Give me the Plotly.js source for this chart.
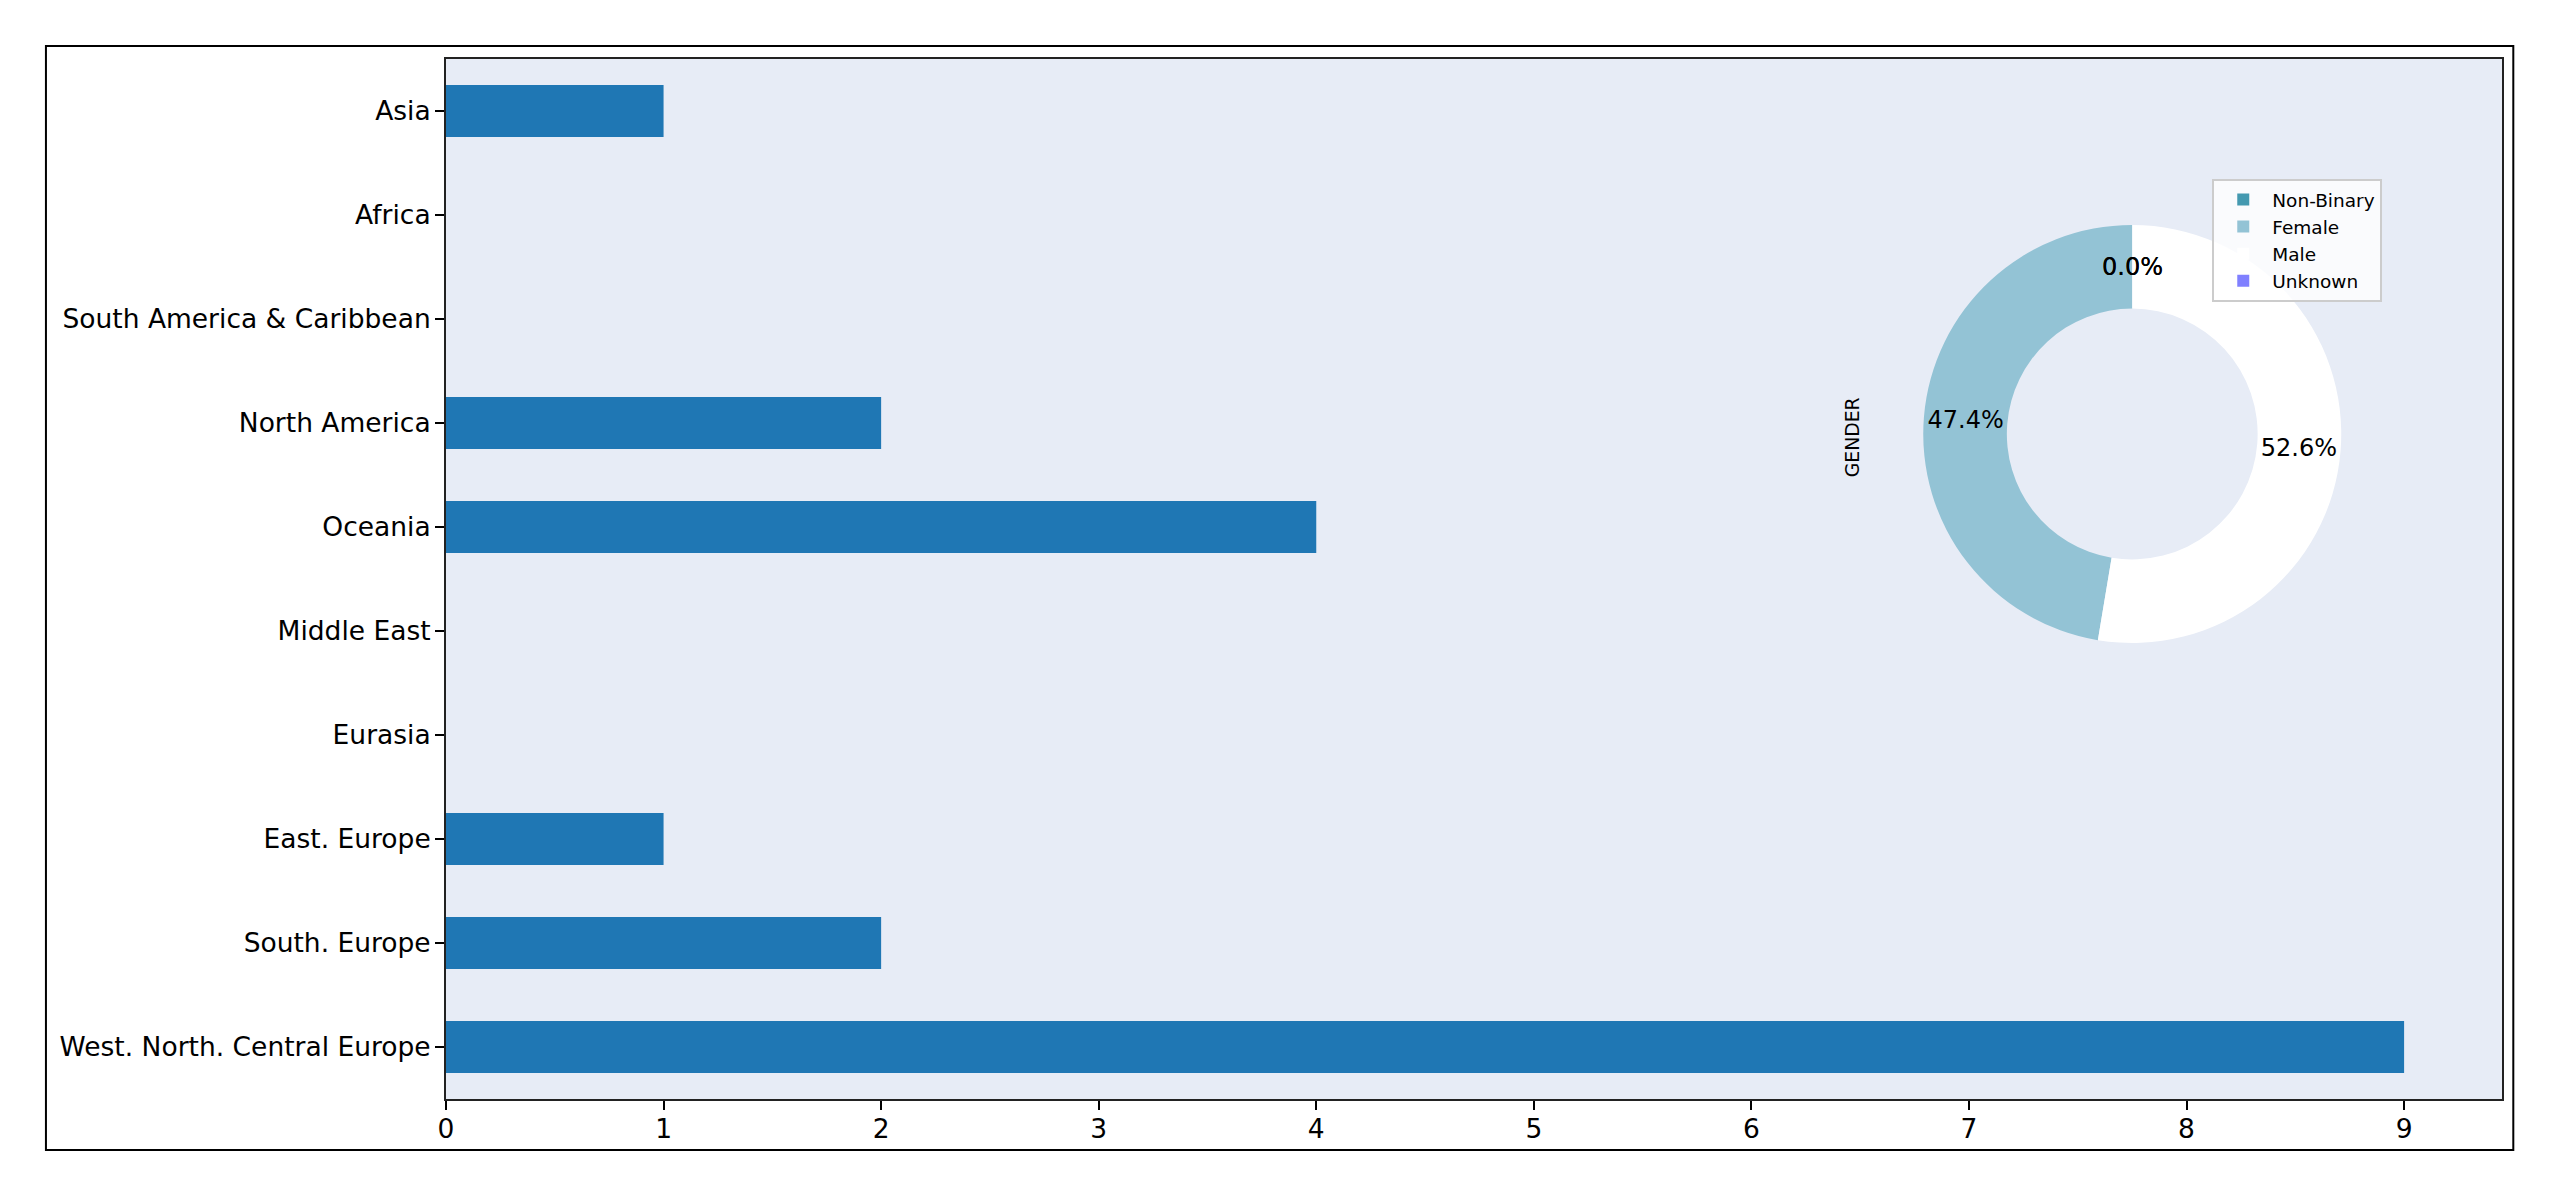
<!DOCTYPE html>
<html>
<head>
<meta charset="utf-8">
<script src="https://cdn.plot.ly/plotly-3.0.1.min.js"></script>
<style>html,body{margin:0;padding:0;background:#fff;}#chart{width:2560px;height:1197px;}</style>
</head>
<body>
<div id="chart"></div>
<script>
// Region bar chart (bottom to top, as drawn)
const regions = [
  "West. North. Central Europe",
  "South. Europe",
  "East. Europe",
  "Eurasia",
  "Middle East",
  "Oceania",
  "North America",
  "South America & Caribbean",
  "Africa",
  "Asia"
];
const regionCounts = [9, 2, 1, 0, 0, 4, 2, 0, 0, 1];
const xTicks = [0, 1, 2, 3, 4, 5, 6, 7, 8, 9];

// Gender donut
const genderLabels = ["Non-Binary", "Female", "Male", "Unknown"];
const genderCounts = [0, 9, 10, 0];
const genderColors = ["#4499B0", "#93C3D5", "#FFFFFF", "#8080FF"];

const FONT = "DejaVu Sans";
const W = 2560, H = 1197;
const L = 446, R = 58.3, T = 59, B = 98;
const pw = W - L - R, ph = H - T - B;
const toPx = (px) => (px - L) / pw;
const toPy = (py) => (H - B - py) / ph;

// donut placement
const cx = 2132, cy = 434, rad = 209, hole = 0.6;

const bar = {
  type: "bar",
  orientation: "h",
  y: regions,
  x: regionCounts,
  width: 0.5,
  marker: {color: "#1F77B4", line: {width: 0}},
  showlegend: false,
  hoverinfo: "x+y"
};

const pie = {
  type: "pie",
  labels: genderLabels,
  values: genderCounts,
  sort: false,
  direction: "counterclockwise",
  rotation: 0,
  hole: hole,
  marker: {colors: genderColors, line: {width: 0}},
  textinfo: "percent",
  texttemplate: "%{percent:.1%}",
  textposition: "inside",
  insidetextorientation: "horizontal",
  textfont: {family: FONT, size: 24, color: "#000"},
  domain: {x: [toPx(cx - rad), toPx(cx + rad)], y: [toPy(cy + rad), toPy(cy - rad)]},
  showlegend: true
};

// labels for zero-valued slices (Plotly does not draw them), placed at the slice mid-angle
const total = genderCounts.reduce((a, b) => a + b, 0);
const zeroLabels = [];
let cum = 0;
genderCounts.forEach((v) => {
  const mid = (cum + v / 2) / total;
  cum += v;
  if (v === 0) {
    const ang = (90 + 360 * mid) * Math.PI / 180;
    const rr = rad * (1 + hole) / 2;
    zeroLabels.push({
      text: (100 * v / total).toFixed(1) + "%",
      xref: "paper", yref: "paper",
      x: toPx(cx + rr * Math.cos(ang)), y: toPy(cy - rr * Math.sin(ang)),
      xanchor: "center", yanchor: "middle", showarrow: false,
      font: {family: FONT, size: 24, color: "#000"}
    });
  }
});

const layout = {
  width: W, height: H,
  margin: {l: L, r: R, t: T, b: B, pad: 0},
  paper_bgcolor: "#FFFFFF",
  plot_bgcolor: "#E7ECF6",
  font: {family: FONT, size: 26.5, color: "#000"},
  xaxis: {
    range: [0, 9.45],
    tickvals: xTicks,
    ticktext: xTicks.map(String),
    ticks: "outside", ticklen: 9, tickwidth: 2, tickcolor: "#000",
    showgrid: false, zeroline: false,
    showline: true, mirror: true, linecolor: "#222", linewidth: 2,
    tickfont: {family: FONT, size: 26.5, color: "#000"},
    ticklabelstandoff: -4
  },
  yaxis: {
    type: "category",
    categoryorder: "array",
    categoryarray: regions,
    range: [-0.5, 9.5],
    ticks: "outside", ticklen: 9, tickwidth: 2, tickcolor: "#000",
    showgrid: false, zeroline: false,
    showline: true, mirror: true, linecolor: "#222", linewidth: 2,
    tickfont: {family: FONT, size: 26.5, color: "#000"},
    ticklabelstandoff: -1
  },
  legend: {
    x: toPx(2212), y: toPy(179), xanchor: "left", yanchor: "top",
    bgcolor: "rgba(255,255,255,0.8)", bordercolor: "#CCCCCC", borderwidth: 2,
    font: {family: FONT, size: 18.5, color: "#000"},
    itemwidth: 48,
    traceorder: "normal"
  },
  shapes: [{
    type: "rect", xref: "paper", yref: "paper",
    x0: toPx(46), x1: toPx(2513), y0: toPy(1150), y1: toPy(46),
    line: {color: "#000", width: 2}, fillcolor: "rgba(0,0,0,0)", layer: "below"
  }],
  annotations: [{
    text: "GENDER", xref: "paper", yref: "paper",
    x: toPx(1852), y: toPy(437), xanchor: "center", yanchor: "middle",
    textangle: -90, showarrow: false,
    font: {family: FONT, size: 18.8, color: "#000"}
  }].concat(zeroLabels)
};

Plotly.newPlot("chart", [bar, pie], layout, {displayModeBar: false, staticPlot: true});
</script>
</body>
</html>
